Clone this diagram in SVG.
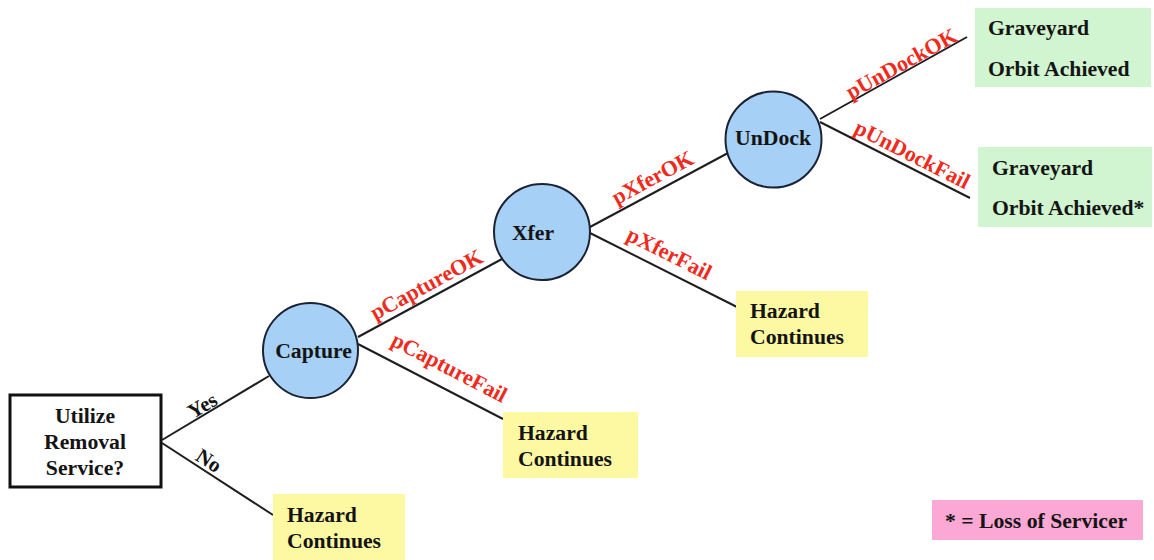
<svg xmlns="http://www.w3.org/2000/svg" width="1154" height="560" viewBox="0 0 1154 560">
<style>
text{font-family:"Liberation Serif","Times New Roman",serif;font-weight:bold;font-size:21.7px;fill:#141414}
.lbl{fill:#f02a1c;font-size:22px}
.yn{font-size:21px}
.c{text-anchor:middle}
.edge{stroke:#1e1e1e;stroke-width:2;fill:none}
.circ{fill:#a6d0f6;stroke:#1a2233;stroke-width:2}
.haz{fill:#fdf9a3}
.grn{fill:#d0f5d0}
</style>
<rect width="1154" height="560" fill="#ffffff"/>
<g id="connectors">
<line class="edge" x1="162" y1="440" x2="269" y2="376"/>
<line class="edge" x1="162" y1="443" x2="273" y2="515"/>
<line class="edge" x1="358" y1="337" x2="502" y2="259"/>
<line class="edge" x1="358" y1="344" x2="503" y2="419"/>
<line class="edge" x1="590" y1="227" x2="728" y2="153"/>
<line class="edge" x1="590" y1="233" x2="737" y2="307"/>
<line class="edge" x1="820" y1="119" x2="967" y2="37"/>
<line class="edge" x1="820" y1="122" x2="970" y2="198"/>
<text class="yn c" transform="translate(206,411.5) rotate(-31)">Yes</text>
<text class="yn c" transform="translate(205,466.5) rotate(32.7)">No</text>
<text class="lbl c" transform="translate(430,291) rotate(-28.4)">pCaptureOK</text>
<text class="lbl c" transform="translate(446,374) rotate(27.4)">pCaptureFail</text>
<text class="lbl c" transform="translate(656,184) rotate(-28.4)">pXferOK</text>
<text class="lbl c" transform="translate(666,260) rotate(26.7)">pXferFail</text>
<text class="lbl c" transform="translate(905,70) rotate(-28.9)">pUnDockOK</text>
<text class="lbl c" transform="translate(909,161) rotate(26.9)">pUnDockFail</text>
</g>
<g id="decision">
<rect x="10" y="395" width="151" height="92" fill="#ffffff" stroke="#111111" stroke-width="3"/>
<text class="c" x="85" y="423">Utilize</text>
<text class="c" x="85" y="449">Removal</text>
<text class="c" x="85" y="475">Service?</text>
</g>
<g id="capture">
<circle class="circ" cx="310.5" cy="350.5" r="47.5"/>
<text class="c" x="313.5" y="358">Capture</text>
</g>
<g id="xfer">
<circle class="circ" cx="542" cy="232" r="48"/>
<text class="c" x="533" y="240">Xfer</text>
</g>
<g id="undock">
<circle class="circ" cx="773.5" cy="139.5" r="48"/>
<text class="c" x="773" y="145">UnDock</text>
</g>
<g id="hazard1">
<rect class="haz" x="273" y="494" width="132" height="66"/>
<text x="287" y="522">Hazard</text>
<text x="287" y="548">Continues</text>
</g>
<g id="hazard2">
<rect class="haz" x="503" y="412" width="135" height="66"/>
<text x="518" y="440">Hazard</text>
<text x="518" y="466">Continues</text>
</g>
<g id="hazard3">
<rect class="haz" x="736" y="291" width="132" height="66"/>
<text x="750" y="318">Hazard</text>
<text x="750" y="344">Continues</text>
</g>
<g id="graveyard1">
<rect class="grn" x="975" y="8" width="176" height="79"/>
<text x="988" y="35">Graveyard</text>
<text x="988" y="76">Orbit Achieved</text>
</g>
<g id="graveyard2">
<rect class="grn" x="978" y="147" width="174" height="80"/>
<text x="992" y="175">Graveyard</text>
<text x="992" y="215">Orbit Achieved*</text>
</g>
<g id="legend">
<rect x="932" y="500" width="211" height="40" fill="#fba8d4"/>
<text x="945" y="528">* = Loss of Servicer</text>
</g>
</svg>
